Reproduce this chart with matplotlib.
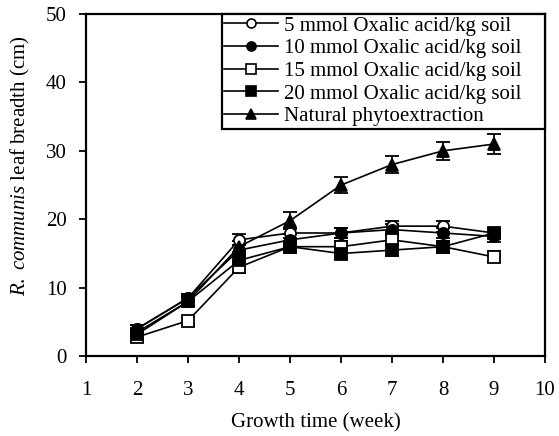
import numpy as np
import matplotlib.pyplot as plt
from matplotlib.lines import Line2D

plt.rcParams['font.family'] = 'Liberation Serif'
plt.rcParams['mathtext.fontset'] = 'custom'
plt.rcParams['mathtext.it'] = 'Liberation Serif:italic'
plt.rcParams['mathtext.rm'] = 'Liberation Serif'

weeks = [2, 3, 4, 5, 6, 7, 8, 9]

ox5 = [4.0, 8.5, 17.0, 18.0, 18.0, 19.0, 19.0, 18.0]
ox10 = [4.0, 8.5, 15.5, 17.0, 18.0, 18.5, 18.0, 17.5]
ox15 = [2.8, 5.2, 13.0, 16.0, 16.0, 17.0, 16.0, 14.5]
ox20 = [3.2, 8.0, 14.0, 16.0, 15.0, 15.5, 16.0, 18.0]
natural = [3.5, 8.0, 16.0, 19.8, 25.0, 28.0, 30.0, 31.0]

err_ox = [0.5, 0.6, 0.8, 0.8, 0.8, 0.8, 0.8, 0.8]
err_nat = [0.5, 0.6, 0.8, 1.2, 1.2, 1.2, 1.3, 1.4]

labels = ['5 mmol Oxalic acid/kg soil', '10 mmol Oxalic acid/kg soil',
          '15 mmol Oxalic acid/kg soil', '20 mmol Oxalic acid/kg soil',
          'Natural phytoextraction']

fig, ax = plt.subplots(figsize=(5.59, 4.36), dpi=100)
fig.subplots_adjust(left=0.154, right=0.975, top=0.968, bottom=0.183)

series = [
    (ox5, err_ox, 'o', 'white'),
    (ox10, err_ox, 'o', 'black'),
    (ox15, err_ox, 's', 'white'),
    (ox20, err_ox, 's', 'black'),
    (natural, err_nat, '^', 'black'),
]
handles = []
for (vals, err, mk, fc), lab in zip(series, labels):
    ax.errorbar(weeks, vals, yerr=err, color='black', lw=1.2, marker=mk,
                markersize=8, markerfacecolor=fc, markeredgecolor='black',
                markeredgewidth=1.3, capsize=5, capthick=1.3, elinewidth=1.3)
    # legend entries without error bars, padded on the right
    handles.append(Line2D([], [], color='black', lw=1.2, marker=mk,
                          markersize=6.5, markerfacecolor=fc,
                          markeredgecolor='black', markeredgewidth=1.2,
                          label=lab + '    '))

ax.set_xlim(1, 10)
ax.set_ylim(0, 50)
ax.set_xticks(range(1, 11))
ax.set_yticks(range(0, 51, 10))
ax.tick_params(direction='out', length=5, width=1.3, labelsize=15)
ax.tick_params(axis='x', pad=13)
ax.tick_params(axis='y', pad=9)
for s in ax.spines.values():
    s.set_linewidth(1.6)

ax.set_xlabel('Growth time (week)', fontsize=15, va='top')
ax.xaxis.set_label_coords(0.5, -0.167)
ax.set_ylabel(r'$\it{R.\ communis}$ leaf breadth (cm)', fontsize=15)
ax.yaxis.set_label_coords(-0.118, 0.556)

leg = ax.legend(handles=handles, loc='upper right', fontsize=15, frameon=True,
                fancybox=False, edgecolor='black', framealpha=1, borderpad=0.1,
                labelspacing=0.15, handlelength=2.6, handletextpad=0.3,
                borderaxespad=0)
leg.get_frame().set_linewidth(1.6)

fig.savefig('out.png', dpi=100)
